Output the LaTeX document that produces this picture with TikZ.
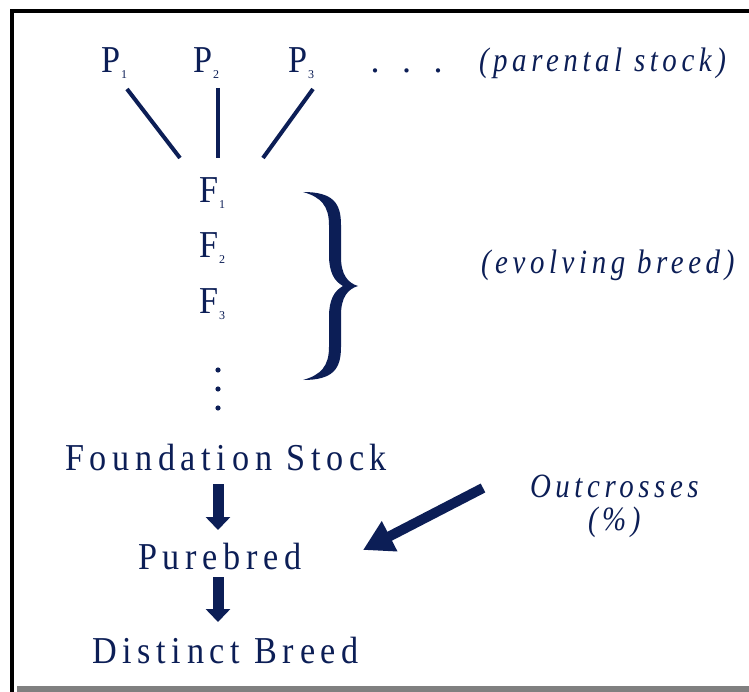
\documentclass[tikz,border=0pt]{standalone}
\usepackage{fontspec}
\setmainfont{Liberation Serif}
\newfontfamily\spf[LetterSpace=15,FakeStretch=0.9]{Liberation Serif}
\newfontfamily\itf[LetterSpace=13.5,FakeStretch=0.85]{Liberation Serif}
\newfontfamily\subf{Liberation Serif}
\usetikzlibrary{arrows.meta}
\definecolor{navy}{RGB}{12,30,86}
\newcommand\subn[1]{\hspace{1pt}\raisebox{-6pt}{\subf\fontsize{12}{12}\selectfont #1}}
\begin{document}
\begin{tikzpicture}[x=1pt,y=-1pt,
  every node/.style={inner sep=0pt, outer sep=0pt, text=navy},
  big/.style={anchor=base west, font=\spf\fontsize{38}{42}\selectfont},
  ital/.style={anchor=base west, font=\itf\itshape\fontsize{34}{38}\selectfont},
  conn/.style={draw=navy, line width=4pt},
  blockarrow/.style={draw=navy, line width=11pt, -{Triangle[length=13pt,width=24pt]}},
  bigarrow/.style={draw=navy, line width=10pt, -{Triangle[length=30pt,width=32pt]}},
]
\useasboundingbox (0,0) rectangle (749,692);
% frame
\fill[white] (0,0) rectangle (749,692);
\fill[black] (10,9) rectangle (14,692);
\fill[black] (10,9) rectangle (749,13);
\fill[gray] (17,686) rectangle (749,692);

% parental row
\node[big] (p1) at (101,73) {P\subn{1}};
\node[big] (p2) at (193,73) {P\subn{2}};
\node[big] (p3) at (288,73) {P\subn{3}};
\node[anchor=base west, font=\fontsize{36}{40}\selectfont] (pdots) at (370.5,73) {.\hspace{22.5pt}.\hspace{22.5pt}.};
\node[ital] (parental) at (479,72) {(parental stock)};

% lines to F1
\coordinate (l1a) at (127,89);  \coordinate (l1b) at (180,158);
\coordinate (l2a) at (218,88);  \coordinate (l2b) at (218,158);
\coordinate (l3a) at (313,89);  \coordinate (l3b) at (263,158);
\draw[conn] (l1a) -- (l1b);
\draw[conn] (l2a) -- (l2b);
\draw[conn] (l3a) -- (l3b);

% F generations
\node[big] (f1) at (199,203) {F\subn{1}};
\node[big] (f2) at (199,258) {F\subn{2}};
\node[big] (f3) at (199,313) {F\subn{3}};
\fill[navy] (218,370) circle (2.6pt);
\fill[navy] (218,389) circle (2.6pt);
\fill[navy] (218,408) circle (2.6pt);

% brace
\fill[navy] (303,192)
  .. controls (333,192) and (341,203) .. (341,225)
  -- (341,257)
  .. controls (341,275) and (348,283) .. (358,286)
  .. controls (348,289) and (341,297) .. (341,315)
  -- (341,347)
  .. controls (341,369) and (333,380) .. (303,380)
  .. controls (321,375) and (329,366) .. (329,347)
  -- (329,317)
  .. controls (329,300) and (334,291) .. (343,286)
  .. controls (334,281) and (329,272) .. (329,255)
  -- (329,225)
  .. controls (329,206) and (321,197) .. (303,192) -- cycle;
\node[ital] (evolving) at (481,274) {(evolving breed)};

% lower part
\coordinate (ax) at (218,0);
\node[big] (fs) at (65,470) {Foundation Stock};
\node[big] (pb) at (138,569) {Purebred};
\node[big] (db) at (92,663) {Distinct Breed};
\draw[blockarrow] ([yshift=-14pt]fs.base -| ax) -- ([yshift=39pt]pb.base -| ax);
\draw[blockarrow] ([yshift=-8pt]pb.base -| ax) -- ([yshift=41pt]db.base -| ax);

\node[ital] (oc) at (530,497) {Outcrosses};
\node[ital] (ocp) at (588,530) {(\%)};
\coordinate (octail) at (483,488);
\coordinate (octip) at (363,550);
\draw[bigarrow] (octail) -- (octip);
\end{tikzpicture}
\end{document}
